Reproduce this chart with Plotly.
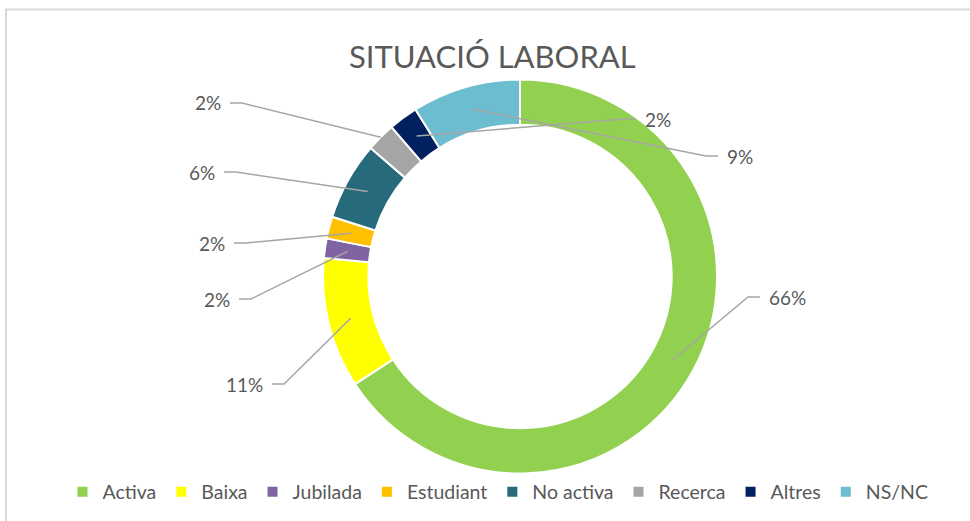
import plotly.graph_objects as go
import math

# ---- data ----
categories = ["Activa", "Baixa", "Jubilada", "Estudiant", "No activa", "Recerca", "Altres", "NS/NC"]
values = [65.8, 10.7, 1.6, 1.8, 6.4, 2.4, 2.4, 8.9]
label_texts = ["66%", "11%", "2%", "2%", "6%", "2%", "2%", "9%"]
title_text = "SITUACIÓ LABORAL"

# ---- style ----
colors = ["#92D050", "#FFFF00", "#8064A2", "#FFC000", "#266A7B", "#A5A5A5", "#002060", "#6DBDD1"]
W, H = 970, 521
CX, CY, R_OUT = 520, 276.5, 197
HOLE = 0.77
TXT = "#595959"
LINE = "#A6A6A6"
FONT = "Lato"
# manual label placement (pixel coords of the label edge nearest the ring, side)
label_pos = [(767, 297, "R"), (265, 384, "L"), (232, 299, "L"), (227, 243, "L"),
             (217, 172, "L"), (223, 103, "L"), (643, 119, "R"), (725, 156, "R")]
tip_frac = [0.5, 0.5, 0.5, 0.5, 0.5, 1.0, 0.5, 0.5]   # 0 = inner edge, 1 = outer edge
GAP, STUB = 7, 12


def X(px):
    return px / W


def Y(py):
    return 1 - py / H


fig = go.Figure()
fig.add_trace(go.Pie(
    labels=categories, values=values, hole=HOLE, sort=False, direction="clockwise",
    rotation=0, marker=dict(colors=colors, line=dict(color="white", width=2)),
    textinfo="none", hoverinfo="label+percent",
    domain=dict(x=[X(CX - R_OUT), X(CX + R_OUT)], y=[Y(CY + R_OUT), Y(CY - R_OUT)]),
))

total = sum(values)
shapes = []
annotations = []
cum = 0.0
r_in = R_OUT * HOLE
for v, txt, (lx, ly, side), tf in zip(values, label_texts, label_pos, tip_frac):
    ang = math.radians(360.0 * (cum + v / 2) / total)
    cum += v
    r = r_in + (R_OUT - r_in) * tf
    tx, ty = CX + r * math.sin(ang), CY - r * math.cos(ang)
    if side == "L":
        s_end = lx + GAP
        elbow = s_end + STUB
        xanchor = "right"
    else:
        s_end = lx - GAP
        elbow = s_end - STUB
        xanchor = "left"
    path = f"M {X(tx)},{Y(ty)} L {X(elbow)},{Y(ly)} L {X(s_end)},{Y(ly)}"
    shapes.append(dict(type="path", xref="paper", yref="paper", path=path,
                       line=dict(color=LINE, width=1.5)))
    annotations.append(dict(x=X(lx), y=Y(ly), xref="paper", yref="paper", text=txt,
                            showarrow=False, xanchor=xanchor, yanchor="middle",
                            font=dict(family=FONT, size=19, color=TXT)))

# chart border (top and left visible)
shapes.append(dict(type="line", xref="paper", yref="paper", x0=X(5), x1=X(970), y0=Y(9.5), y1=Y(9.5),
                   line=dict(color="#D9D9D9", width=2)))
shapes.append(dict(type="line", xref="paper", yref="paper", x0=X(6), x1=X(6), y0=Y(9), y1=Y(521),
                   line=dict(color="#D9D9D9", width=2)))

annotations.append(dict(x=X(492), y=Y(56), xref="paper", yref="paper", text=title_text,
                        showarrow=False, xanchor="center", yanchor="middle",
                        font=dict(family=FONT, size=31, color=TXT)))

fig.update_layout(
    width=W, height=H, margin=dict(l=0, r=0, t=0, b=0),
    paper_bgcolor="white", plot_bgcolor="white",
    shapes=shapes, annotations=annotations,
    showlegend=True,
    legend=dict(orientation="h", x=X(498), xanchor="center", y=Y(492), yanchor="middle",
                font=dict(family=FONT, size=19.5, color=TXT), itemwidth=30,
                traceorder="normal"),
)

fig.write_html("out.html", config={"displayModeBar": False},
               post_script="document.body.style.margin='0';")
